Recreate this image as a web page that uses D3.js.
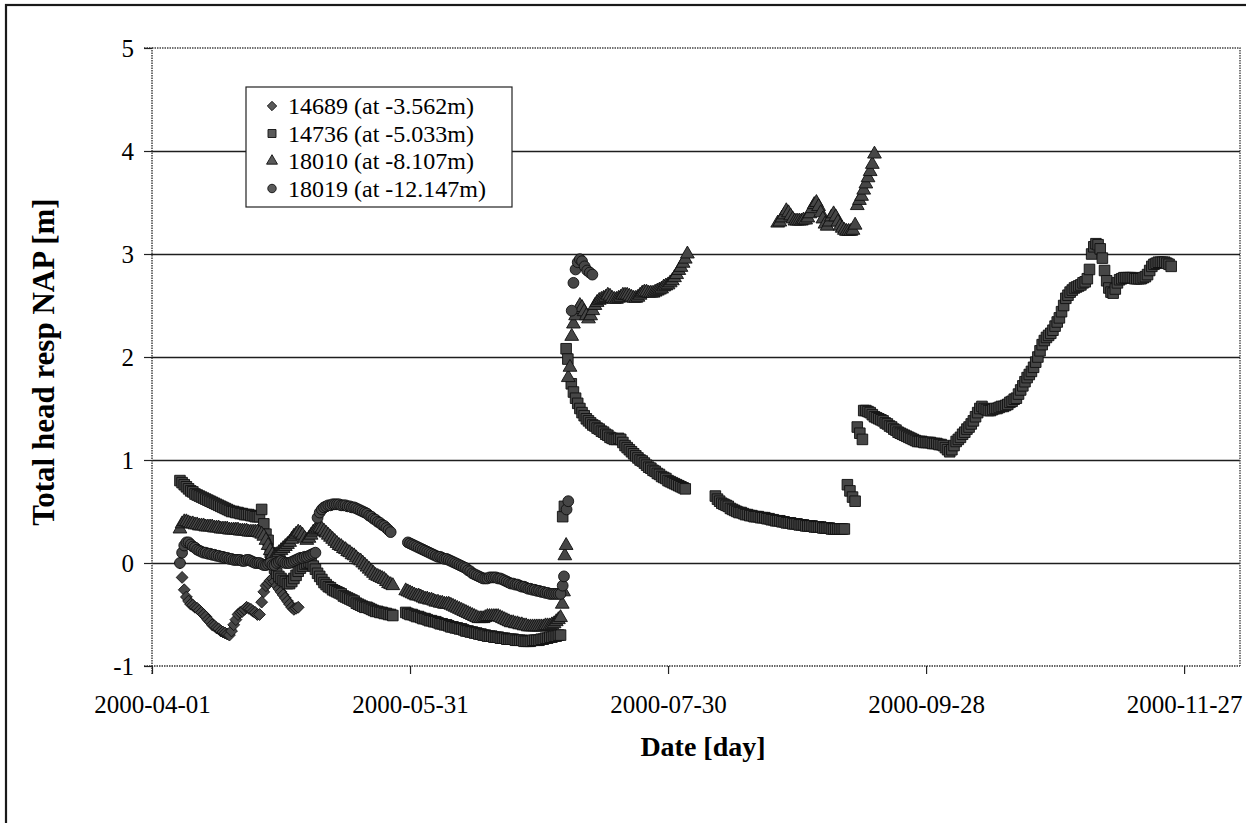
<!DOCTYPE html>
<html>
<head>
<meta charset="utf-8">
<script src="https://cdn.jsdelivr.net/npm/d3@7"></script>
<style>
  body { margin: 0; background: #fff; }
  text { font-family: "Liberation Serif", "Times New Roman", serif; fill: #000; }
</style>
</head>
<body>
<svg id="chart" width="1246" height="823"></svg>
<script>
// ---- data -------------------------------------------------------------
// Days are counted from startDate; heads are metres relative to NAP.
// A block is either { from, step, head } (regular readings) or { days, head }.
const startDate = "2000-04-01";
const axisDays = 253;
const xTickLabels = ["2000-04-01", "2000-05-31", "2000-07-30", "2000-09-28", "2000-11-27"];
const yTicks = [-1, 0, 1, 2, 3, 4, 5];
const seriesNames = ["14689 (at -3.562m)", "14736 (at -5.033m)", "18010 (at -8.107m)", "18019 (at -12.147m)"];

const blocks14689 = [
  { from: 6.5, step: 0.5, head: [
    0.0, -0.14, -0.26, -0.33, -0.37, -0.4, -0.41, -0.43, -0.44, -0.46,
    -0.48, -0.5, -0.52, -0.55, -0.57, -0.6, -0.61, -0.63, -0.64, -0.66,
    -0.67, -0.68, -0.69, -0.7, -0.66, -0.6, -0.55, -0.5, -0.48, -0.47,
    -0.45, -0.43, -0.44, -0.45, -0.47, -0.48, -0.5, -0.5, -0.38, -0.28,
    -0.22, -0.2, -0.17, -0.15, -0.18, -0.22, -0.25, -0.28, -0.31, -0.34,
    -0.37, -0.4, -0.43, -0.45, -0.44, -0.43] }
];

const blocks14736 = [
  { from: 6.5, step: 0.5, head: [
    0.8, 0.78, 0.76, 0.74, 0.72, 0.7, 0.69, 0.67, 0.66, 0.65,
    0.64, 0.63, 0.62, 0.61, 0.6, 0.59, 0.58, 0.57, 0.56, 0.55,
    0.54, 0.53, 0.52, 0.51, 0.5, 0.5, 0.49, 0.49, 0.48, 0.48,
    0.47, 0.47, 0.47, 0.46, 0.46, 0.45, 0.45, 0.45, 0.52, 0.38,
    0.28, 0.22,
    0.1, 0.02, -0.05, -0.1, -0.13, -0.15, -0.17, -0.18, -0.2, -0.2,
    -0.18, -0.15, -0.12, -0.08, -0.05, -0.03, -0.01, 0.0, 0.01, 0.0,
    -0.03, -0.06, -0.1, -0.13, -0.16, -0.19, -0.21, -0.23, -0.24, -0.26,
    -0.27, -0.28, -0.29, -0.3, -0.32, -0.33, -0.34, -0.35, -0.36, -0.37,
    -0.39, -0.4, -0.41, -0.42, -0.43, -0.43, -0.44, -0.45, -0.46, -0.47,
    -0.47, -0.48, -0.48, -0.49, -0.49, -0.5, -0.5, -0.51] },
  { from: 59, step: 0.5, head: [
    -0.48, -0.49, -0.5, -0.5, -0.51, -0.52, -0.52, -0.53, -0.54, -0.54,
    -0.55, -0.56, -0.56, -0.57, -0.57, -0.58, -0.59, -0.59, -0.6, -0.6,
    -0.61, -0.62, -0.62, -0.63, -0.63, -0.64, -0.64, -0.65, -0.66, -0.66,
    -0.67, -0.67, -0.68, -0.68, -0.69, -0.69, -0.7, -0.7, -0.71, -0.71,
    -0.71, -0.72, -0.72, -0.72, -0.73, -0.73, -0.73, -0.74, -0.74, -0.74,
    -0.74, -0.75, -0.75, -0.75, -0.75, -0.76, -0.76, -0.76, -0.76, -0.75,
    -0.75, -0.75, -0.75, -0.74, -0.74, -0.73, -0.73, -0.72, -0.72, -0.71,
    -0.71, -0.7, -0.7] },
  { days: [95.5, 95.9, 96.3, 96.7], head: [0.45, 0.55, 2.08, 1.98] },
  { from: 97.5, step: 0.5, head: [
    1.74, 1.66, 1.6, 1.55, 1.5, 1.46, 1.43, 1.4, 1.38, 1.36,
    1.34, 1.33, 1.31, 1.3, 1.28, 1.27, 1.25, 1.24, 1.22, 1.21,
    1.2, 1.2, 1.21, 1.2, 1.17, 1.14, 1.12, 1.1, 1.08, 1.06,
    1.04, 1.02, 1.0, 0.99, 0.97, 0.95, 0.93, 0.92, 0.9, 0.89,
    0.87, 0.86, 0.84, 0.83, 0.82, 0.8, 0.79, 0.78, 0.77, 0.76,
    0.75, 0.74, 0.73, 0.72] },
  { from: 131, step: 0.5, head: [
    0.65, 0.62, 0.6, 0.58, 0.57, 0.56, 0.55, 0.53, 0.52, 0.51,
    0.5, 0.49, 0.49, 0.48, 0.47, 0.47, 0.46, 0.46, 0.45, 0.45,
    0.45, 0.44, 0.44, 0.44, 0.43, 0.43, 0.42, 0.42, 0.41, 0.41,
    0.41, 0.4, 0.4, 0.39, 0.39, 0.39, 0.38, 0.38, 0.38, 0.37,
    0.37, 0.37, 0.36, 0.36, 0.36, 0.36, 0.35, 0.35, 0.35, 0.35,
    0.34, 0.34, 0.34, 0.34, 0.33, 0.33, 0.33, 0.33, 0.33, 0.33,
    0.33] },
  { days: [161.7, 162.3, 162.9, 163.5, 164, 164.6, 165.2], head: [0.76, 0.7, 0.64, 0.6, 1.32, 1.26, 1.2] },
  { from: 165.5, step: 0.5, head: [
    1.48, 1.48, 1.47, 1.46, 1.44, 1.42, 1.41, 1.4, 1.39, 1.38,
    1.36, 1.35, 1.33, 1.32, 1.3, 1.29, 1.27, 1.26, 1.25, 1.24,
    1.23, 1.22, 1.21, 1.2, 1.19, 1.18, 1.18, 1.18, 1.17, 1.17,
    1.17, 1.17, 1.16, 1.16, 1.16, 1.15, 1.15, 1.14, 1.12, 1.1,
    1.08, 1.1, 1.14, 1.18, 1.2, 1.22, 1.25, 1.27, 1.3, 1.32,
    1.35, 1.38, 1.42, 1.46, 1.5, 1.52, 1.5, 1.49, 1.48, 1.48,
    1.49, 1.5, 1.5, 1.51, 1.52, 1.52, 1.53, 1.54, 1.56, 1.57,
    1.59, 1.6, 1.64, 1.68, 1.72, 1.76, 1.8, 1.83, 1.86, 1.9,
    1.95, 2.0, 2.06, 2.12, 2.16, 2.19, 2.21, 2.23, 2.26, 2.3,
    2.34, 2.38, 2.44, 2.5, 2.57, 2.6, 2.63, 2.65, 2.67, 2.68,
    2.69, 2.7, 2.72, 2.73, 2.76, 2.85, 3.0, 3.07, 3.1, 3.09,
    3.05, 2.96, 2.84, 2.74, 2.67, 2.63, 2.62, 2.66, 2.72, 2.75,
    2.76, 2.77, 2.77, 2.77, 2.77, 2.77, 2.76, 2.76, 2.76, 2.76,
    2.77, 2.78, 2.8, 2.84, 2.88, 2.9, 2.91, 2.92, 2.92, 2.92,
    2.92, 2.91, 2.9, 2.88] }
];

const blocks18010 = [
  { from: 6.5, step: 0.5, head: [
    0.33, 0.38, 0.4, 0.4, 0.39, 0.38, 0.38, 0.37, 0.37, 0.36,
    0.36, 0.36, 0.35, 0.35, 0.35, 0.35, 0.34, 0.34, 0.34, 0.33,
    0.33, 0.33, 0.33, 0.32, 0.32, 0.32, 0.32, 0.32, 0.31, 0.31,
    0.31, 0.31, 0.3, 0.3, 0.3, 0.3, 0.3, 0.29, 0.28, 0.26,
    0.22,
    0.17, 0.12, 0.08, 0.06, 0.08, 0.1, 0.12, 0.14, 0.16, 0.18,
    0.2, 0.23, 0.26, 0.28, 0.3, 0.29, 0.27, 0.24, 0.22, 0.24,
    0.27, 0.3, 0.32, 0.33, 0.34, 0.33, 0.31, 0.29, 0.27, 0.25,
    0.23, 0.21, 0.19, 0.17, 0.16, 0.14, 0.13, 0.11, 0.1, 0.08,
    0.07, 0.05, 0.03, 0.02, 0.0, -0.02, -0.04, -0.06, -0.08, -0.1,
    -0.12, -0.13, -0.14, -0.15, -0.16, -0.18, -0.2, -0.21, -0.22] },
  { from: 59, step: 0.5, head: [
    -0.27, -0.28, -0.29, -0.3, -0.31, -0.32, -0.32, -0.33, -0.34, -0.35,
    -0.35, -0.36, -0.36, -0.37, -0.38, -0.38, -0.39, -0.39, -0.4, -0.4,
    -0.4, -0.41, -0.42, -0.43, -0.44, -0.45, -0.46, -0.47, -0.48, -0.49,
    -0.5, -0.51, -0.52, -0.53, -0.54, -0.54, -0.54, -0.53, -0.52, -0.52,
    -0.52, -0.52, -0.52, -0.52, -0.53, -0.54, -0.55, -0.56, -0.57, -0.58,
    -0.58, -0.59, -0.59, -0.6, -0.6, -0.61, -0.61, -0.62, -0.62, -0.62,
    -0.62, -0.62, -0.62, -0.62, -0.62, -0.61, -0.61, -0.61, -0.6, -0.59,
    -0.57, -0.55, -0.53] },
  { days: [95.4, 95.7, 96.0, 96.3, 96.8, 97.2, 97.6, 98.0, 98.5, 99.0, 99.5, 100.0, 100.5, 101.0, 101.5, 102.0, 102.5, 103.0],
    head: [-0.4, -0.28, 0.07, 0.17, 1.8, 1.9, 2.2, 2.32, 2.4, 2.46, 2.5, 2.48, 2.44, 2.4, 2.37, 2.4, 2.45, 2.5] },
  { from: 103.5, step: 0.5, head: [
    2.53, 2.55, 2.56, 2.57, 2.58, 2.6, 2.59, 2.57, 2.56, 2.56,
    2.57, 2.58, 2.6, 2.6, 2.6, 2.59, 2.58, 2.57, 2.57, 2.58,
    2.6, 2.62, 2.63, 2.63, 2.62, 2.62, 2.62, 2.63, 2.64, 2.65,
    2.66, 2.68, 2.69, 2.7, 2.72, 2.74, 2.77, 2.8, 2.84, 2.87,
    2.91, 2.95, 3.0] },
  { from: 145.5, step: 0.5, head: [
    3.3, 3.31, 3.35, 3.38, 3.42, 3.4, 3.37, 3.34, 3.32, 3.32,
    3.32, 3.32, 3.33, 3.33, 3.35, 3.39, 3.44, 3.48, 3.5, 3.46,
    3.4, 3.34, 3.29, 3.27, 3.31, 3.36, 3.39, 3.36, 3.31, 3.27,
    3.25, 3.23, 3.22, 3.22, 3.22, 3.23, 3.28, 3.47, 3.52, 3.56,
    3.62, 3.68, 3.74, 3.8, 3.87, 3.97] }
];

const blocks18019 = [
  { from: 6.5, step: 0.5, head: [
    0.0, 0.1, 0.17, 0.2, 0.2, 0.18, 0.16, 0.15, 0.13, 0.12,
    0.11, 0.1, 0.1, 0.09, 0.09, 0.08, 0.08, 0.07, 0.07, 0.06,
    0.06, 0.05, 0.05, 0.04, 0.04, 0.03, 0.03, 0.03, 0.03, 0.02,
    0.02, 0.03, 0.03, 0.02, 0.01, 0.0, 0.0, 0.0, -0.01, -0.02,
    -0.02, -0.01, 0.0, -0.02, -0.02, 0.0, 0.01, 0.02, 0.01, 0.0,
    0.0, 0.0, 0.01, 0.02, 0.03, 0.04, 0.05, 0.05, 0.06, 0.06,
    0.07, 0.08, 0.09, 0.1,
    0.44, 0.49, 0.52, 0.54, 0.55, 0.56, 0.56, 0.57, 0.57, 0.57,
    0.57, 0.56, 0.56, 0.56, 0.55, 0.55, 0.54, 0.54, 0.53, 0.52,
    0.51, 0.5, 0.49, 0.48, 0.46, 0.45, 0.43, 0.42, 0.4, 0.39,
    0.37, 0.36, 0.34, 0.32, 0.3] },
  { from: 59.5, step: 0.5, head: [
    0.2, 0.19, 0.18, 0.17, 0.16, 0.15, 0.14, 0.13, 0.12, 0.11,
    0.1, 0.09, 0.08, 0.07, 0.06, 0.06, 0.05, 0.04, 0.04, 0.03,
    0.02, 0.01, 0.0, -0.01, -0.02, -0.03, -0.04, -0.05, -0.07, -0.08,
    -0.1, -0.11, -0.12, -0.13, -0.14, -0.15, -0.15, -0.15, -0.14, -0.14,
    -0.14, -0.14, -0.15, -0.15, -0.16, -0.17, -0.18, -0.19, -0.2, -0.2,
    -0.21, -0.21, -0.22, -0.23, -0.23, -0.24, -0.25, -0.25, -0.26, -0.26,
    -0.27, -0.27, -0.28, -0.28, -0.29, -0.29, -0.3, -0.3, -0.3, -0.3,
    -0.3, -0.3] },
  { days: [95.5, 95.8, 96.4, 96.8, 97.6, 98.0, 98.5, 99.0, 99.5, 100.0, 100.6, 101.2, 101.8, 102.4],
    head: [-0.22, -0.13, 0.52, 0.6, 2.45, 2.72, 2.85, 2.92, 2.95, 2.93, 2.88, 2.84, 2.82, 2.8] }
];

// ---- layout -----------------------------------------------------------
const W = 1246, H = 823;
const plot = { left: 152, right: 1240, top: 48, bottom: 666 };
const MS_DAY = 864e5;
const parseDay = d3.utcParse("%Y-%m-%d");
const t0 = parseDay(startDate);
const toDate = d => new Date(t0.getTime() + d * MS_DAY);

// flatten blocks into {date, v} points
const toPoints = blocks => blocks.flatMap(b =>
  b.head.map((v, i) => ({ date: toDate(b.days ? b.days[i] : b.from + i * b.step), v })));

const x = d3.scaleUtc()
  .domain([t0, toDate(axisDays)])
  .range([plot.left, plot.right]);
const y = d3.scaleLinear()
  .domain([d3.min(yTicks), d3.max(yTicks)])
  .range([plot.bottom, plot.top]);

const svg = d3.select("#chart");
svg.append("rect").attr("width", W).attr("height", H).attr("fill", "#fff");

// chart frame (runs off the right and bottom of the page)
svg.append("rect")
  .attr("x", 6).attr("y", 5).attr("width", W + 40).attr("height", H + 40)
  .attr("fill", "none").attr("stroke", "#1a1a1a").attr("stroke-width", 2.2);

// horizontal gridlines
svg.append("g")
  .selectAll("line")
  .data(yTicks.slice(1, -1))
  .join("line")
  .attr("x1", plot.left).attr("x2", plot.right)
  .attr("y1", d => Math.round(y(d)) + 0.5).attr("y2", d => Math.round(y(d)) + 0.5)
  .attr("stroke", "#1e1e1e").attr("stroke-width", 1.3);

// plot-area border (top and right)
svg.append("path")
  .attr("d", `M${plot.left},${plot.top}H${plot.right}V${plot.bottom}`)
  .attr("fill", "none").attr("stroke", "#444").attr("stroke-width", 1.4)
  .attr("stroke-dasharray", "1.5,1");

// axes
const yAxis = d3.axisLeft(y).tickValues(yTicks).tickSize(8).tickPadding(10).tickFormat(d => String(d));
const xAxis = d3.axisBottom(x)
  .tickValues(xTickLabels.map(parseDay))
  .tickSize(8).tickPadding(21)
  .tickFormat(d3.utcFormat("%Y-%m-%d"));

const gy = svg.append("g").attr("transform", `translate(${plot.left},0)`).call(yAxis);
const gx = svg.append("g").attr("transform", `translate(0,${plot.bottom})`).call(xAxis);
[gx, gy].forEach(g => {
  g.attr("font-family", null);
  g.select(".domain").attr("stroke", "#333").attr("stroke-width", 1.4).attr("stroke-dasharray", "1.5,1");
  g.selectAll(".tick line").attr("stroke", "#222").attr("stroke-width", 1.2);
  g.selectAll(".tick text")
    .style("font-family", '"Liberation Serif", "Times New Roman", serif')
    .style("font-size", "25px").attr("fill", "#000");
});
gy.select(".domain").attr("d", `M-8,${plot.bottom}H0V${plot.top}H-8`);
gx.select(".domain").attr("d", `M${plot.left},8V0H${plot.right}`);

// axis titles
svg.append("text")
  .attr("transform", `translate(54,362) rotate(-90)`)
  .attr("text-anchor", "middle")
  .style("font-size", "31px").style("font-weight", "bold")
  .text("Total head resp NAP [m]");
svg.append("text")
  .attr("x", 703).attr("y", 756)
  .attr("text-anchor", "middle")
  .style("font-size", "28px").style("font-weight", "bold")
  .text("Date [day]");

// ---- series markers ---------------------------------------------------
const symbolRhomb = {
  draw(ctx, size) {
    const r = Math.sqrt(size / 2);
    ctx.moveTo(0, -r); ctx.lineTo(r, 0); ctx.lineTo(0, r); ctx.lineTo(-r, 0); ctx.closePath();
  }
};
const series = [
  { name: seriesNames[0], blocks: blocks14689, shape: symbolRhomb, size: 70, legendSize: 44 },
  { name: seriesNames[1], blocks: blocks14736, shape: d3.symbolSquare, size: 112, legendSize: 64 },
  { name: seriesNames[2], blocks: blocks18010, shape: d3.symbolTriangle, size: 82, legendSize: 52 },
  { name: seriesNames[3], blocks: blocks18019, shape: d3.symbolCircle, size: 92, legendSize: 56 }
];
const markerFill = "#464646", markerEdge = "#101010";

const marks = svg.append("g");
series.forEach(s => {
  const sym = d3.symbol().type(s.shape).size(s.size);
  marks.append("g")
    .selectAll("path")
    .data(toPoints(s.blocks))
    .join("path")
    .attr("transform", p => `translate(${x(p.date)},${y(p.v)})`)
    .attr("d", sym)
    .attr("fill", markerFill)
    .attr("stroke", markerEdge)
    .attr("stroke-width", 0.9);
});

// ---- legend -----------------------------------------------------------
const legend = svg.append("g").attr("transform", "translate(246,87)");
legend.append("rect")
  .attr("width", 266).attr("height", 120)
  .attr("fill", "#fff").attr("stroke", "#222").attr("stroke-width", 1.2);
const rows = legend.selectAll("g.row")
  .data(series)
  .join("g")
  .attr("class", "row")
  .attr("transform", (d, i) => `translate(0,${19 + i * 27.5})`);
rows.append("path")
  .attr("transform", "translate(26,0)")
  .attr("d", d => d3.symbol().type(d.shape).size(d.legendSize)())
  .attr("fill", "#5a5a5a").attr("stroke", markerEdge).attr("stroke-width", 0.9);
rows.append("text")
  .attr("x", 42).attr("y", 0).attr("dy", "0.34em")
  .style("font-size", "24px")
  .text(d => d.name);
</script>
</body>
</html>
